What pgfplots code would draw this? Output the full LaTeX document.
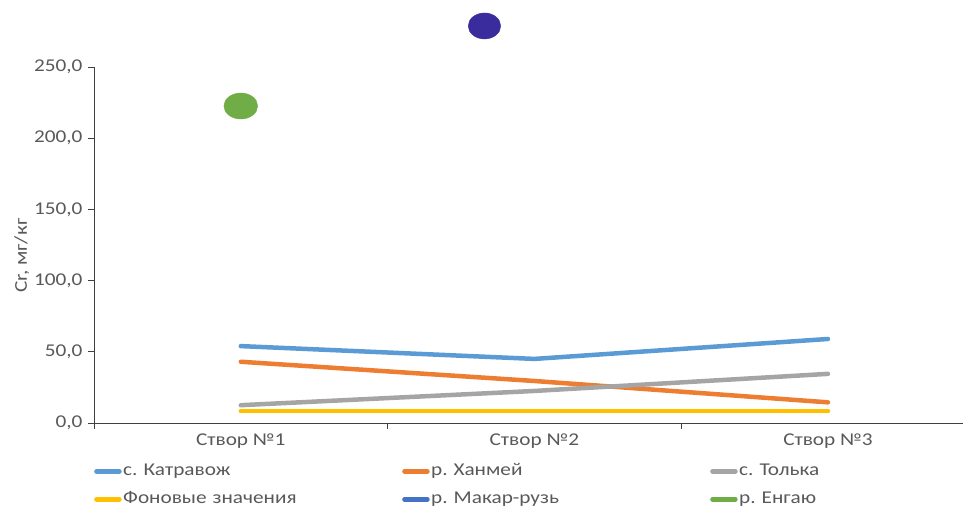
\documentclass[border=0pt]{standalone}
\usepackage{pgfplots}
\pgfplotsset{compat=1.18}
\usepackage{fontspec}
\setmainfont[FakeStretch=1.18]{Carlito}
\frenchspacing
\definecolor{cblue}{HTML}{5B9BD5}
\definecolor{corange}{HTML}{ED7D31}
\definecolor{cgray}{HTML}{A5A5A5}
\definecolor{cyellow}{HTML}{FFC000}
\definecolor{cdblue}{HTML}{4472C4}
\definecolor{cpurple}{HTML}{3B2C9E}
\definecolor{cgreen}{HTML}{70AD47}
\definecolor{ctext}{HTML}{595959}
\definecolor{caxis}{HTML}{404040}
\begin{document}
\begin{tikzpicture}[x=1bp,y=1bp]
\path[use as bounding box] (0,0) rectangle (963,509);
\begin{axis}[
  at={(94bp,86bp)}, anchor=south west,
  scale only axis, width=869bp, height=356bp,
  xmin=-0.5, xmax=2.46, ymin=0, ymax=250,
  clip=false,
  axis lines*=left,
  axis line style={caxis, line width=0.9bp},
  tick align=outside,
  xtick={0,1,2},
  xticklabels={Створ №1, Створ №2, Створ №3},
  major x tick style={draw=none},
  minor xtick={-0.5,0.5,1.5},
  minor tick length=6bp,
  minor x tick style={caxis, line width=0.9bp},
  ytick={0,50,100,150,200,250},
  major tick length=6bp,
  major y tick style={caxis, line width=0.9bp},
  tick label style={font=\fontsize{18bp}{21bp}\selectfont, text=ctext},
  xticklabel style={yshift=-1bp},
  yticklabel style={xshift=-2bp},
  /pgf/number format/.cd, fixed, fixed zerofill, precision=1, use comma, assume math mode=true,
  /pgfplots/.cd,
  ylabel={Cr, мг/кг},
  ylabel style={at={(axis description cs:-0.083,0.47)}, anchor=center, font=\fontsize{18bp}{21bp}\selectfont, text=ctext},
  legend columns=3,
  legend style={at={(rel axis cs:0,-0.11)}, anchor=north west, draw=none, fill=none, inner sep=0pt,
    font=\fontsize{18bp}{21bp}\selectfont, text=ctext, row sep=10bp,
    nodes={inner sep=0pt, text width=279bp, align=left, text height=13bp, text depth=5bp},
    /tikz/every odd column/.append style={column sep=1.5bp}},
  legend image code/.code={\draw[#1, line width=4.5bp, line cap=round] (2bp,0bp) -- (25bp,0bp);},
]
\addplot[cblue, line width=4.5bp, line cap=round, line join=round] coordinates {(0,54.0) (1,45.0) (2,59.0)};
\addlegendentry{с. Катравож}
\addplot[corange, line width=4.5bp, line cap=round, line join=round] coordinates {(0,43.0) (1,29.5) (2,14.5)};
\addlegendentry{р. Ханмей}
\addplot[cgray, line width=4.5bp, line cap=round, line join=round] coordinates {(0,12.5) (1,22.5) (2,34.5)};
\addlegendentry{с. Толька}
\addplot[cyellow, line width=4.5bp, line cap=round, line join=round] coordinates {(0,8.3) (1,8.3) (2,8.3)};
\addlegendentry{Фоновые значения}
\addlegendimage{cdblue}
\addlegendentry{р. Макар-рузь}
\addlegendimage{cgreen}
\addlegendentry{р. Енгаю}
\addplot[cpurple, forget plot, only marks, mark=*, mark size=13bp, mark options={xscale=1.25, draw=cpurple, fill=cpurple}] coordinates {(0.83,278.8)};
\addplot[cgreen, forget plot, only marks, mark=*, mark size=13bp, mark options={xscale=1.3, draw=cgreen, fill=cgreen}] coordinates {(0,222.6)};
\end{axis}
\end{tikzpicture}
\end{document}
